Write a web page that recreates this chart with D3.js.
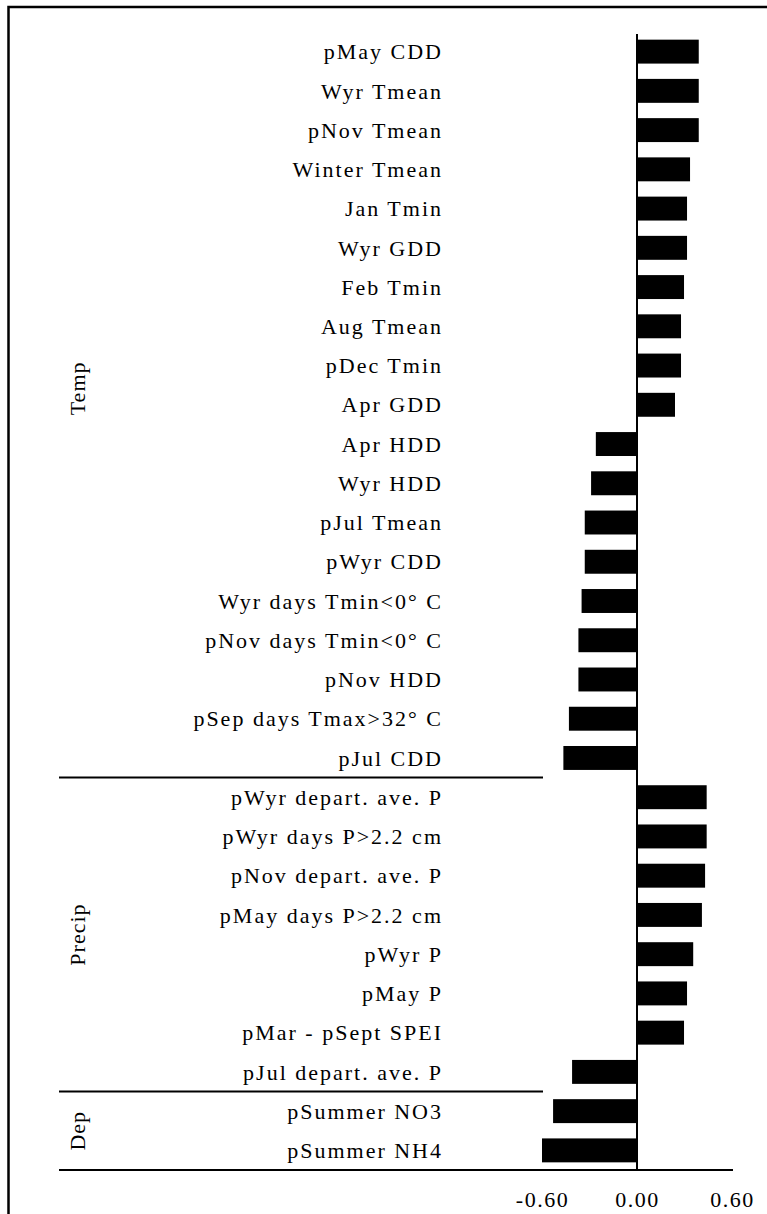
<!DOCTYPE html>
<html>
<head>
<meta charset="utf-8">
<script src="https://cdn.jsdelivr.net/npm/d3@7"></script>
<style>
  body { margin: 0; background: #fff; }
  text { font-family: "Liberation Serif", "Times New Roman", serif; fill: #000; }
</style>
</head>
<body>
<div class="chart"></div>
<script>
var width = 767, height = 1214;

var labels = [
  "pMay CDD", "Wyr Tmean", "pNov Tmean", "Winter Tmean", "Jan Tmin", "Wyr GDD",
  "Feb Tmin", "Aug Tmean", "pDec Tmin", "Apr GDD", "Apr HDD", "Wyr HDD",
  "pJul Tmean", "pWyr CDD", "Wyr days Tmin<0° C", "pNov days Tmin<0° C", "pNov HDD",
  "pSep days Tmax>32° C", "pJul CDD",
  "pWyr depart. ave. P", "pWyr days P>2.2 cm", "pNov depart. ave. P", "pMay days P>2.2 cm",
  "pWyr P", "pMay P", "pMar - pSept SPEI", "pJul depart. ave. P",
  "pSummer NO3", "pSummer NH4"
];
var values = [
  0.39, 0.39, 0.39, 0.335, 0.316, 0.316,
  0.297, 0.278, 0.278, 0.24, -0.26, -0.29,
  -0.33, -0.33, -0.35, -0.37, -0.37,
  -0.43, -0.465,
  0.44, 0.44, 0.43, 0.41,
  0.355, 0.316, 0.297, -0.41,
  -0.53, -0.60
];
var groups = ["Temp", "Precip", "Dep"];
var groupSizes = [19, 8, 2];
var ticks = [-0.6, 0, 0.6];

var svg = d3.select(".chart")
  .append("svg")
    .attr("width", width)
    .attr("height", height);

// outer frame, runs off the right and bottom edges
svg.append("rect")
  .attr("x", 8.5).attr("y", 7)
  .attr("width", 800).attr("height", 1300)
  .style("fill", "none")
  .style("stroke", "black")
  .style("stroke-width", 2.5);

var x = d3.scaleLinear().domain([-0.6, 0.6]).range([542, 732]);
var y = d3.scaleBand().domain(labels).range([32, 1170])
  .paddingInner(0.39).paddingOuter(0.195);
var step = y.step();
var top0 = 32;

svg.selectAll(".bar")
  .data(values)
  .enter().append("rect")
    .attr("class", "bar")
    .attr("x", function(d) { return Math.min(x(0), x(d)); })
    .attr("y", function(d, i) { return y(labels[i]); })
    .attr("width", function(d) { return Math.abs(x(d) - x(0)); })
    .attr("height", y.bandwidth())
    .style("fill", "black");

svg.selectAll(".lab")
  .data(labels)
  .enter().append("text")
    .attr("class", "lab")
    .attr("x", 443)
    .attr("y", function(d) { return y(d) + y.bandwidth() / 2; })
    .attr("dy", "0.35em")
    .attr("text-anchor", "end")
    .style("font-size", "22px")
    .style("letter-spacing", "2px")
    .text(function(d) { return d; });

// zero line
svg.append("line")
  .attr("x1", x(0)).attr("x2", x(0))
  .attr("y1", 34).attr("y2", 1170)
  .style("stroke", "black").style("stroke-width", 2);

// group separators
var cum = 0;
groupSizes.forEach(function(n, i) {
  var g0 = top0 + cum * step;
  cum += n;
  var g1 = top0 + cum * step;
  if (i < groupSizes.length - 1) {
    svg.append("line")
      .attr("x1", 59).attr("x2", 543)
      .attr("y1", g1).attr("y2", g1)
      .style("stroke", "black").style("stroke-width", 2);
  }
  var cy = i === 0 ? g0 + (g1 - g0) * 0.478 : (g0 + g1) / 2;
  svg.append("text")
    .attr("transform", "translate(85," + cy + ") rotate(-90)")
    .attr("text-anchor", "middle")
    .style("font-size", "22px")
    .style("letter-spacing", "1px")
    .text(groups[i]);
});

// bottom axis
svg.append("line")
  .attr("x1", 59).attr("x2", 733)
  .attr("y1", 1170).attr("y2", 1170)
  .style("stroke", "black").style("stroke-width", 2);

var axis = d3.axisBottom(x).tickValues(ticks).tickSize(0).tickPadding(21)
  .tickFormat(d3.format(".2f"));
var ax = svg.append("g")
  .attr("transform", "translate(0,1170)")
  .call(axis);
ax.select(".domain").remove();
ax.selectAll("text")
  .style("font-family", "'Liberation Serif', serif")
  .style("font-size", "22px")
  .style("letter-spacing", "1.5px")
  .text(function(d) { return d3.format(".2f")(d).replace("−", "-"); });
</script>
</body>
</html>
